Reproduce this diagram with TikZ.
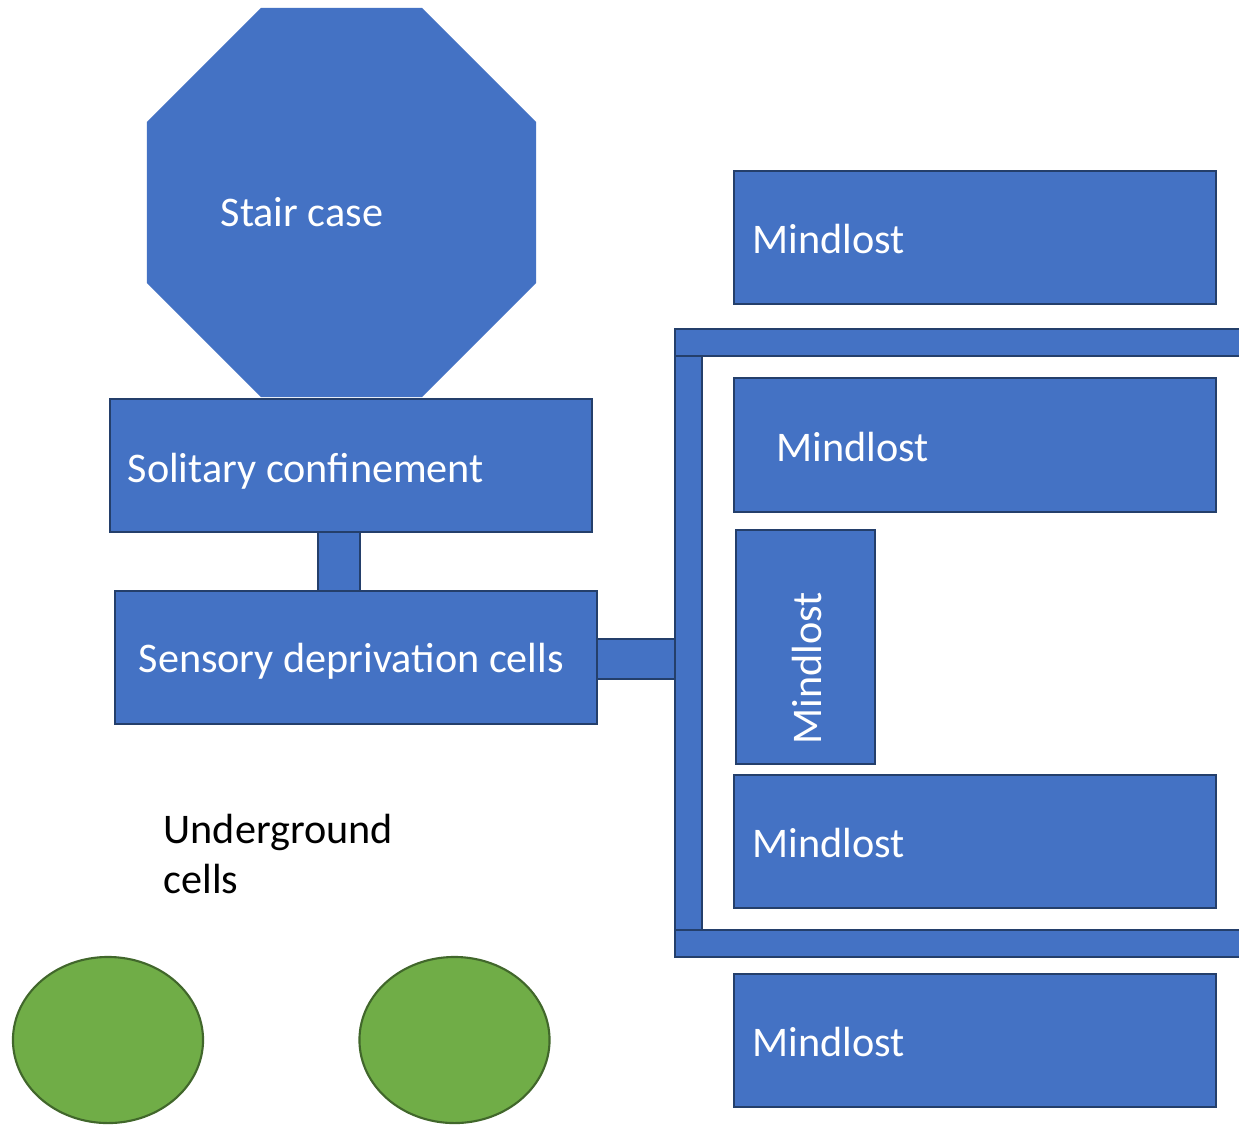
\documentclass[tikz,border=0pt]{standalone}
\usepackage{fontspec}
\setmainfont{Carlito}
\usetikzlibrary{shapes.geometric,calc}
\definecolor{boxfill}{HTML}{4472C4}
\definecolor{boxline}{HTML}{243F6B}
\definecolor{cellfill}{HTML}{70AD47}
\definecolor{cellline}{HTML}{41672B}
\tikzset{
  room/.style={draw=boxline, fill=boxfill, line width=0.6pt, inner sep=0pt, outer sep=0pt, rectangle, anchor=north west},
  corridor/.style={draw=boxline, fill=boxfill, line width=0.6pt},
  wtxt/.style={text=white, font=\fontsize{12}{14.4}\selectfont, inner sep=0pt, anchor=base west},
  btxt/.style={text=black, font=\fontsize{12}{14.2}\selectfont, inner sep=0pt, align=left},
  cell/.style={ellipse, draw=cellline, fill=cellfill, line width=0.6pt, inner sep=0pt, minimum width=1.90cm, minimum height=1.66cm}
}
\begin{document}
\begin{tikzpicture}[x=0.01cm, y=-0.01cm]
\useasboundingbox[fill=white] (0,0) rectangle (1239,1126);
% stair case octagon
\node[regular polygon, regular polygon sides=8, fill=boxfill, minimum size=4.21cm, inner sep=0pt] (stair) at (341.5,202.5) {};
\node[wtxt] (stairtxt) at (220,226) {Stair case};
% solitary and sensory
\node[room, minimum width=4.82cm, minimum height=1.33cm] (sol) at (110,399) {};
\node[wtxt] (soltxt) at (127,482) {Solitary confinement};
\node[room, minimum width=4.82cm, minimum height=1.33cm] (sens) at (115,591) {};
\node[wtxt] (senstxt) at (138,672) {Sensory deprivation cells};
\draw[corridor] ($(sol.south west)+(208,0)$) rectangle ($(sens.north west)+(245,0)$);
% frame
\node[room, minimum width=5.75cm, minimum height=0.27cm] (topbar) at (675,329) {};
\node[room, minimum width=0.27cm, minimum height=5.74cm] (leftbar) at (675,356) {};
\node[room, minimum width=5.75cm, minimum height=0.27cm] (botbar) at (675,930) {};
\draw[corridor] ($(sens.north east)+(0,48)$) rectangle ($(leftbar.west |- sens.north)+(0,88)$);
% mindlost rooms
\node[room, minimum width=4.82cm, minimum height=1.33cm] (m1) at (734,171) {};
\node[wtxt] (m1txt) at (752,253) {Mindlost};
\node[room, minimum width=4.82cm, minimum height=1.34cm] (m2) at (734,378) {};
\node[wtxt] (m2txt) at (776,461) {Mindlost};
\node[room, minimum width=1.39cm, minimum height=2.34cm] (m3) at (736,530) {};
\node[wtxt, rotate=90] (m3txt) at (821,745) {Mindlost};
\node[room, minimum width=4.82cm, minimum height=1.33cm] (m4) at (734,775) {};
\node[wtxt] (m4txt) at (752,857) {Mindlost};
\node[room, minimum width=4.82cm, minimum height=1.33cm] (m5) at (734,974) {};
\node[wtxt] (m5txt) at (752,1056) {Mindlost};
% underground cells
\node[btxt, anchor=base west] (ugtxt) at (163,893) {Underground\\cells};
\node[cell] (c1) at (108,1040) {};
\node[cell] (c2) at (454.5,1040) {};
\end{tikzpicture}
\end{document}
